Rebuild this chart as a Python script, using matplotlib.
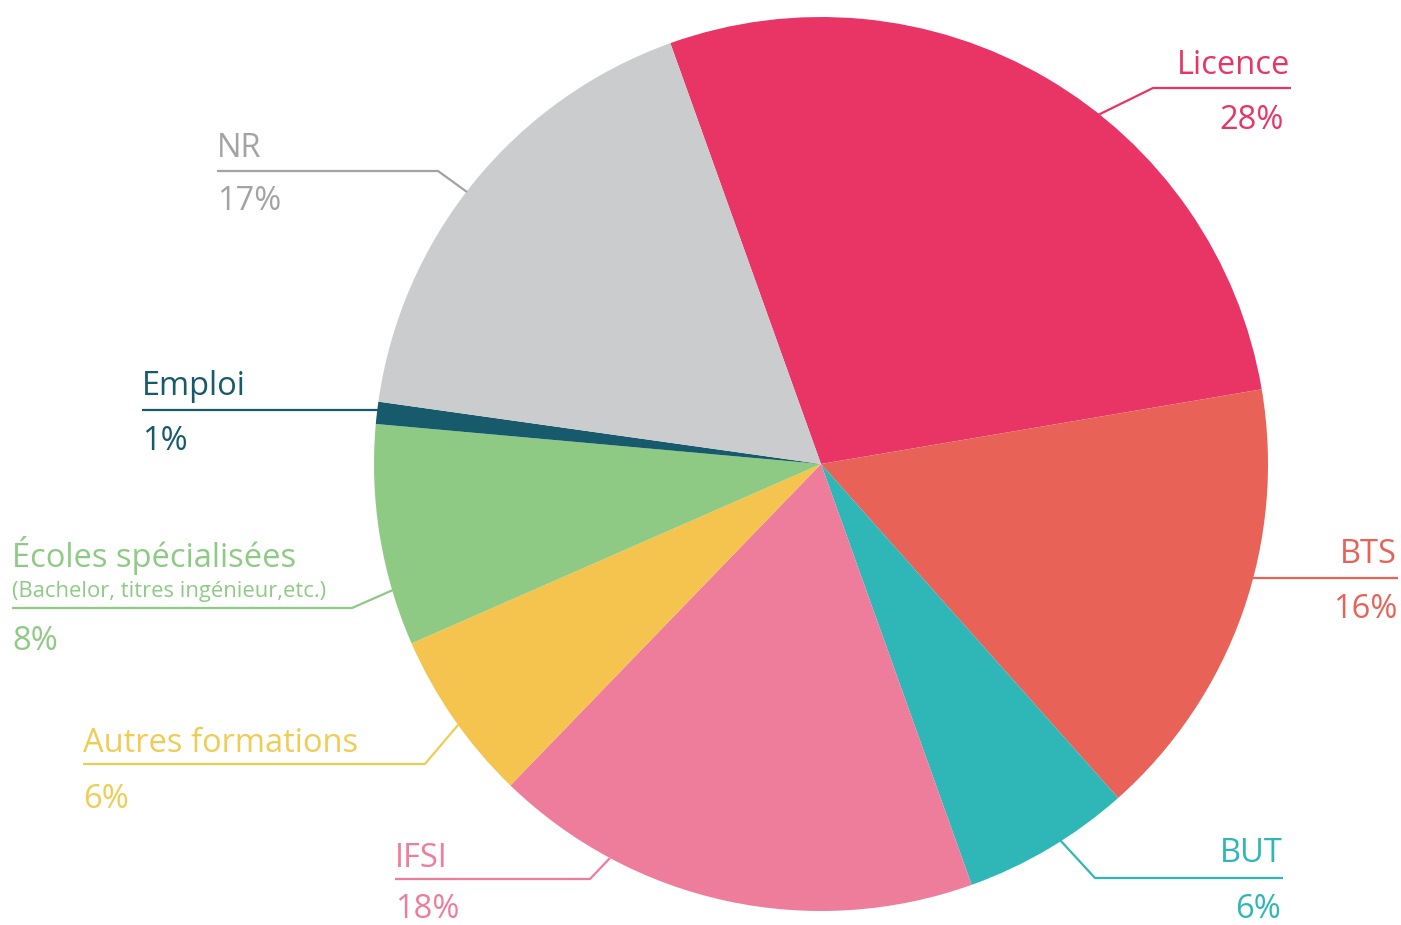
import matplotlib
matplotlib.use("Agg")
import matplotlib.pyplot as plt

# ---- data -------------------------------------------------------------
categories = ["Licence", "BTS", "BUT", "IFSI", "Autres formations",
              "Écoles spécialisées", "Emploi", "NR"]
shares = [27.8, 16.1, 6.1, 17.7, 6.2, 8.0, 0.8, 17.3]
pct_labels = ["28%", "16%", "6%", "18%", "6%", "8%", "1%", "17%"]
subtitles = {"Écoles spécialisées": "(Bachelor, titres ingénieur,etc.)"}

colors = ["#E83565", "#E86257", "#2FB6B7", "#EE7D9B", "#F4C44E",
          "#8ECA84", "#175A6C", "#CBCCCE"]
text_colors = ["#E83565", "#E86257", "#2FB6B7", "#EE7D9B", "#EECD55",
               "#8ECA84", "#175A6C", "#A3A3A5"]

# ---- layout (pixel coordinates, origin top-left) ----------------------
W, H = 1401, 925
layout = {
    "Licence": dict(line=[(1098, 115), (1153, 88), (1291, 88)], x=1290, px=1284, ha="right", name_y=74, pct_y=129),
    "BTS": dict(line=[(1253, 578), (1398, 578)], x=1397, px=1397, ha="right", name_y=563, pct_y=618),
    "BUT": dict(line=[(1060, 840), (1095, 878), (1283, 878)], x=1283, px=1281, ha="right", name_y=862, pct_y=918),
    "IFSI": dict(line=[(610, 858), (590, 879), (395, 879)], x=395, px=395, ha="left", name_y=867, pct_y=918),
    "Autres formations": dict(line=[(458, 725), (425, 764), (83, 764)], x=83, px=83, ha="left", name_y=752, pct_y=808),
    "Écoles spécialisées": dict(line=[(393, 590), (352, 608), (12, 608)], x=12, px=12, ha="left", name_y=567, pct_y=650, sub_y=597),
    "Emploi": dict(line=[(378, 410), (142, 410)], x=142, px=142, ha="left", name_y=395, pct_y=450),
    "NR": dict(line=[(467, 192), (438, 171), (217, 171)], x=217, px=217, ha="left", name_y=157, pct_y=210),
}

plt.rcParams["font.family"] = ["Open Sans", "DejaVu Sans"]

fig = plt.figure(figsize=(W / 100, H / 100), dpi=100)
ax = fig.add_axes([0, 0, 1, 1])

def Y(y):
    return H - y

ax.pie(shares, colors=colors, startangle=109.7, counterclock=False,
       center=(821, Y(464)), radius=447, wedgeprops=dict(linewidth=0),
       frame=False)
ax.set_xlim(0, W)
ax.set_ylim(0, H)
ax.set_aspect("auto")
ax.axis("off")

for cat, pct, tc in zip(categories, pct_labels, text_colors):
    lay = layout[cat]
    xs = [p[0] for p in lay["line"]]
    ys = [Y(p[1]) for p in lay["line"]]
    ax.plot(xs, ys, color=tc, lw=1.6, solid_capstyle="butt")
    ax.text(lay["x"], Y(lay["name_y"]), cat, color=tc, fontsize=23.5,
            ha=lay["ha"], va="baseline")
    if cat in subtitles:
        ax.text(lay["x"], Y(lay["sub_y"]), subtitles[cat], color=tc,
                fontsize=15.8, ha=lay["ha"], va="baseline")
    ax.text(lay["px"], Y(lay["pct_y"]), pct, color=tc, fontsize=23.5,
            ha=lay["ha"], va="baseline")

fig.savefig("out.png", dpi=100)
